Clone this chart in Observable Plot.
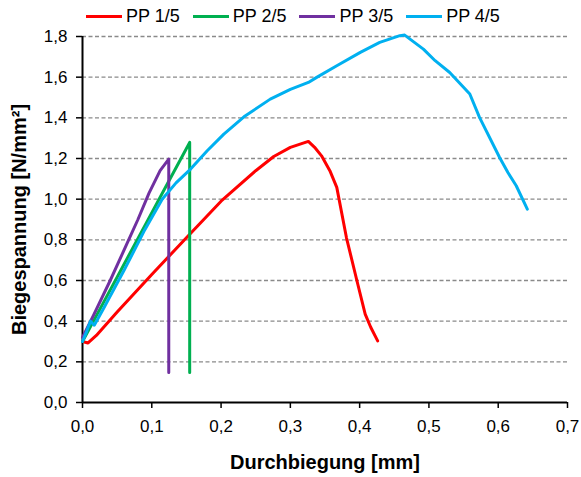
<!DOCTYPE html>
<html>
<head>
<meta charset="utf-8">
<script src="https://cdn.jsdelivr.net/npm/d3@7"></script>
<script src="https://cdn.jsdelivr.net/npm/@observablehq/plot@0.6"></script>
<style>
  body { margin: 0; background: #fff; font-family: "Liberation Sans", Arial, sans-serif; }
  #wrap { width: 581px; height: 477px; position: relative; }
  #legend { height: 32px; display: flex; align-items: center; padding-left: 86px; font-size: 18px; color: #000; }
  .item { display: flex; align-items: center; margin-right: 13px; }
  .sw { width: 36px; height: 3px; margin-right: 4px; }
</style>
</head>
<body>
<div id="wrap">
  <div id="legend"></div>
  <div id="chart"></div>
</div>
<script>
const series = ["PP 1/5", "PP 2/5", "PP 3/5", "PP 4/5"];
const colors = ["#FF0000", "#00B050", "#7030A0", "#00B0F0"];

const pp1x = [0, 0.008, 0.02, 0.05, 0.1, 0.15, 0.2, 0.25, 0.276, 0.3, 0.326, 0.335, 0.345, 0.357, 0.367, 0.381, 0.396, 0.408, 0.416, 0.426];
const pp1y = [0.30, 0.293, 0.33, 0.445, 0.63, 0.81, 0.99, 1.14, 1.21, 1.255, 1.284, 1.255, 1.213, 1.14, 1.058, 0.81, 0.60, 0.435, 0.37, 0.303];

const pp2x = [0, 0.03, 0.06, 0.09, 0.12, 0.1547, 0.1547];
const pp2y = [0.30, 0.49, 0.68, 0.87, 1.06, 1.279, 0.148];

const pp3x = [0, 0.016, 0.04, 0.064, 0.08, 0.096, 0.112, 0.1245, 0.1245];
const pp3y = [0.32, 0.43, 0.60, 0.78, 0.90, 1.03, 1.14, 1.197, 0.148];

const pp4x = [0, 0.006, 0.0115, 0.017, 0.03, 0.06, 0.09, 0.115, 0.135, 0.156, 0.18, 0.204, 0.233, 0.271, 0.3, 0.326, 0.338, 0.367, 0.401, 0.429, 0.458, 0.465, 0.492, 0.509, 0.53, 0.559, 0.573, 0.602, 0.614, 0.626, 0.642];
const pp4y = [0.30, 0.35, 0.40, 0.38, 0.46, 0.65, 0.85, 1.0, 1.08, 1.148, 1.238, 1.32, 1.405, 1.492, 1.54, 1.574, 1.599, 1.656, 1.722, 1.771, 1.804, 1.807, 1.738, 1.681, 1.623, 1.517, 1.402, 1.205, 1.131, 1.066, 0.951];

const yTicks = [0, 0.2, 0.4, 0.6, 0.8, 1.0, 1.2, 1.4, 1.6, 1.8];
const xTicks = [0, 0.1, 0.2, 0.3, 0.4, 0.5, 0.6, 0.7];
const xLabel = "Durchbiegung [mm]";
const yLabel = "Biegespannung [N/mm²]";

const xs = [pp1x, pp2x, pp3x, pp4x];
const ys = [pp1y, pp2y, pp3y, pp4y];
const data = [];
series.forEach((s, i) => xs[i].forEach((x, j) => data.push({series: s, x, y: ys[i][j]})));

const fmt = d => d.toFixed(1).replace(".", ",");

// legend
const legend = document.getElementById("legend");
series.forEach((s, i) => {
  const it = document.createElement("div");
  it.className = "item";
  it.innerHTML = `<span class="sw" style="background:${colors[i]}"></span><span>${s}</span>`;
  legend.appendChild(it);
});

const chart = Plot.plot({
  width: 581,
  height: 445,
  marginTop: 4,
  marginLeft: 82,
  marginRight: 14,
  marginBottom: 75,
  style: { fontFamily: "Liberation Sans, Arial, sans-serif", fontSize: "17px", color: "#000", background: "#fff", overflow: "visible" },
  x: { domain: [0, 0.7] },
  y: { domain: [0, 1.8] },
  color: { domain: series, range: colors },
  marks: [
    Plot.ruleY(yTicks.filter(d => d > 0), { x1: 0, x2: 0.7, stroke: "#8a8a8a", strokeWidth: 1.3, strokeDasharray: "4,2.5" }),
    Plot.axisY({ ticks: yTicks, tickFormat: fmt, tickSize: 6, tickPadding: 9, label: null, stroke: "#000", strokeWidth: 1.5, fontSize: 17 }),
    Plot.axisX({ ticks: xTicks, tickFormat: fmt, tickSize: 6, tickPadding: 11, label: null, stroke: "#000", strokeWidth: 1.5, fontSize: 17 }),
    Plot.ruleX([0], { y1: 0, y2: 1.8, stroke: "#000", strokeWidth: 2 }),
    Plot.ruleY([0], { x1: 0, x2: 0.7, stroke: "#000", strokeWidth: 2 }),
    Plot.line(data, { x: "x", y: "y", z: "series", stroke: "series", strokeWidth: 3, curve: "linear", strokeLinejoin: "round" }),
    Plot.text([xLabel], { frameAnchor: "bottom", lineAnchor: "middle", textAnchor: "middle", dy: 60, fontWeight: "bold", fontSize: 20, fill: "#000" }),
    Plot.text([yLabel], { frameAnchor: "left", lineAnchor: "middle", textAnchor: "middle", dx: -63, rotate: -90, fontWeight: "bold", fontSize: 20, fill: "#000" })
  ]
});
document.getElementById("chart").appendChild(chart);
</script>
</body>
</html>
